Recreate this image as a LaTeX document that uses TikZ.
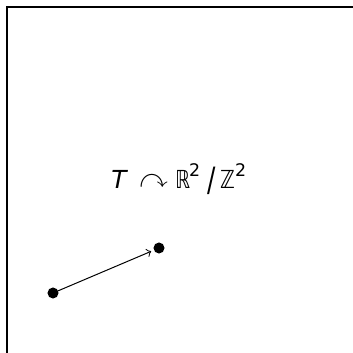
\documentclass[tikz,border=0pt]{standalone}
\usepackage{amssymb}
\usepackage{graphicx}
\usepackage{fontspec}
\newfontfamily\dvs{DejaVu Sans}
\newdimen\pxu \pxu=0.4015pt
\newcommand{\placeat}[2]{\makebox[0pt][l]{\hspace{#1\pxu}#2}}
\newcommand{\suptwo}{\raisebox{4.8pt}{\fontsize{7pt}{8pt}\selectfont 2}}
\newcommand{\bbR}{\scalebox{0.75}[1]{ℝ}}
\newcommand{\bbZ}{\scalebox{0.8}[1]{ℤ}}
\begin{document}
\begin{tikzpicture}[x=0.01416cm, y=-0.01416cm,
  dot/.style={circle, fill=black, inner sep=0pt, minimum size=0.156cm},
  frameline/.style={line width=0.8pt},
  lab/.style={font=\dvs\fontsize{10pt}{12pt}\selectfont, inner sep=0pt, anchor=base west}]
\clip (0,0) rectangle (353,353);
\fill[white] (0,0) rectangle (353,353);
\draw[frameline] (7,400) -- (7,7) -- (400,7);
\node[lab] (lbl) at (111,188) {\makebox[136\pxu][l]{%
  \placeat{0}{\itshape T}%
  \placeat{28}{\raisebox{0.3pt}{\scalebox{1.15}{$\curvearrowright$}}}%
  \placeat{64}{\bbR}%
  \placeat{78}{\suptwo}%
  \placeat{96}{\raisebox{-1.6pt}{\scalebox{1}[1.35]{/}}}%
  \placeat{109}{\bbZ}%
  \placeat{124}{\suptwo}}};
\node[dot] (p) at (53,293) {};
\node[dot] (q) at (159,248) {};
\draw[->, shorten >=1pt] (p.center) -- (q);
\end{tikzpicture}
\end{document}
